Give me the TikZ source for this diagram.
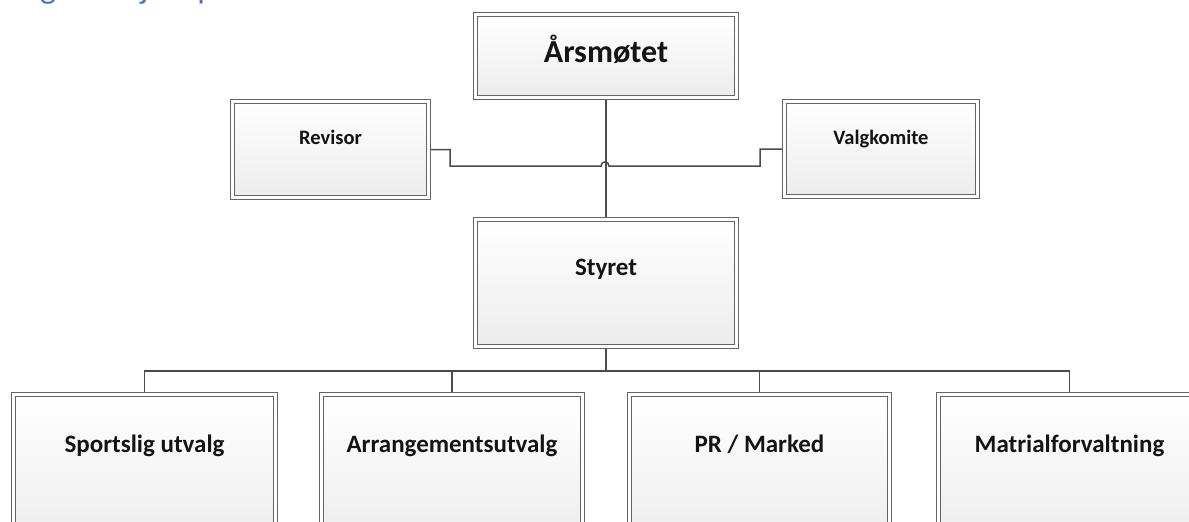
\documentclass[tikz,border=0pt]{standalone}
\usepackage{fontspec}
\setmainfont{Carlito}
\usetikzlibrary{shadows,backgrounds}
\definecolor{boxline}{RGB}{100,100,100}
\definecolor{conn}{RGB}{75,75,75}
\definecolor{titleblue}{RGB}{68,114,196}
\definecolor{boxbot}{RGB}{236,236,236}
\definecolor{txt}{RGB}{20,20,20}
\begin{document}
\begin{tikzpicture}[x=1pt,y=-1pt,
  orgbox/.style={draw=boxline, line width=1.6pt, double=white, double distance=2.2pt,
    top color=white, bottom color=boxbot,
    drop shadow={shadow xshift=1.8pt, shadow yshift=-1.8pt, opacity=0.3},
    inner sep=0pt, outer sep=0pt, rectangle},
  boxtext/.style={anchor=base, inner sep=0pt, text=txt, font=\bfseries\fontsize{#1}{#1}\selectfont},
  connector/.style={draw=conn, line width=1.5pt}]
\useasboundingbox (0,0) rectangle (1189,522);

% title (cut off at top)
\node[anchor=base west, inner sep=0pt, text=titleblue, font=\fontsize{34}{40}\selectfont] (title) at (6,-1.5) {Organisasjonsplan};

% boxes
\node[orgbox, minimum width=261pt, minimum height=83pt] (ars) at (606,56) {};
\node[orgbox, minimum width=196pt, minimum height=96pt] (rev) at (330.5,149.5) {};
\node[orgbox, minimum width=193pt, minimum height=95pt] (val) at (881,149) {};
\node[orgbox, minimum width=261pt, minimum height=127pt] (sty) at (606,283) {};
\node[orgbox, minimum width=262pt, minimum height=150pt] (b1) at (144.5,469.5) {};
\node[orgbox, minimum width=261pt, minimum height=150pt] (b2) at (452,469.5) {};
\node[orgbox, minimum width=260pt, minimum height=150pt] (b3) at (759.5,469.5) {};
\node[orgbox, minimum width=262pt, minimum height=150pt] (b4) at (1069.5,469.5) {};

% texts
\node[boxtext=32] (tars) at (606,62) {Årsmøtet};
\node[boxtext=20.5] (trev) at (330.5,144) {Revisor};
\node[boxtext=20.5] (tval) at (881,144) {Valgkomite};
\node[boxtext=25] (tsty) at (606,275) {Styret};
\node[boxtext=25] (tb1) at (144.5,452) {Sportslig utvalg};
\node[boxtext=25] (tb2) at (452,452) {Arrangementsutvalg};
\node[boxtext=25] (tb3) at (759.5,452) {PR / Marked};
\node[boxtext=25] (tb4) at (1069.5,452) {Matrialforvaltning};

% connectors
\begin{scope}[on background layer]
  \coordinate (bus) at (606,371);
  \coordinate (jl) at (450,166);
  \coordinate (jr) at (760,166);
  \draw[connector] (ars.south) -- (sty.north);
  \draw[connector] (rev.east) -| (jl) -- (601,166)
     .. controls (601,160.5) and (609,160.5) .. (609,166) -- (jr) |- (val.west);
  \draw[connector] (sty.south) -- (bus);
  \draw[connector] (b1.north) |- (bus) -| (b4.north);
  \draw[connector] (b2.north) -- (b2.north |- bus);
  \draw[connector] (b3.north) -- (b3.north |- bus);
\end{scope}
\end{tikzpicture}
\end{document}
